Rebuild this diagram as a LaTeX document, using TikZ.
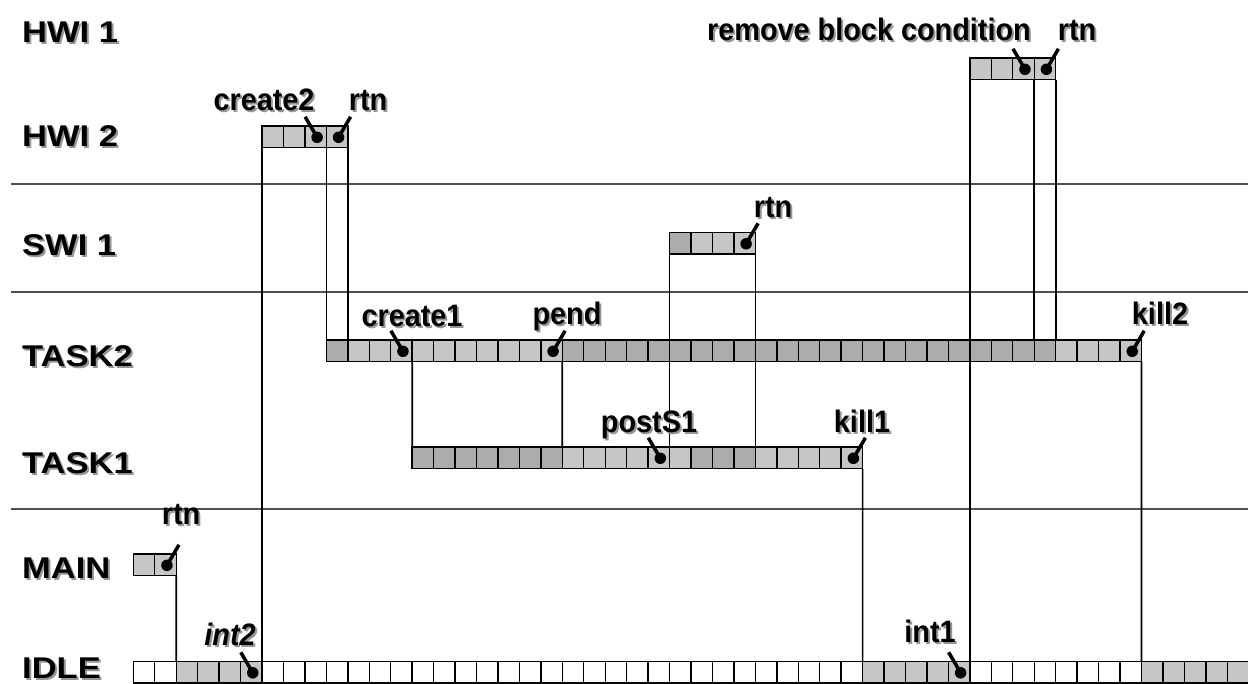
\documentclass[tikz,border=0pt]{standalone}
\usepackage{fontspec}
\setmainfont{Liberation Sans}
\newfontfamily\rowfont{Liberation Sans}[FakeStretch=1.15]
\newfontfamily\annfont{Liberation Sans}[FakeStretch=0.93]
\usetikzlibrary{calc}

\definecolor{runcell}{RGB}{198,198,198}
\definecolor{waitcell}{RGB}{172,172,172}
\definecolor{shade}{RGB}{150,150,150}
\definecolor{sepline}{RGB}{80,80,80}

% text with a soft grey drop shadow
\newcommand\shadowed[1]{\makebox[0pt][l]{\kern2pt\raisebox{-2pt}{\textcolor{shade}{#1}}}#1}

\tikzset{
  cell/.style={draw=black, line width=1.4pt, minimum width=21.45pt, minimum height=21.6pt,
               inner sep=0pt, outer sep=0pt},
  dot/.style={circle, fill=black, minimum size=11.5pt, inner sep=0pt},
  tail/.style={line width=3.5pt},
  link/.style={line width=1.7pt},
  sep/.style={draw=sepline, line width=2pt},
  rowlabel/.style={anchor=base west, inner sep=0pt, font=\rowfont\bfseries\fontsize{30}{34}\selectfont},
  ann/.style={anchor=base, inner sep=0pt, font=\annfont\bfseries\fontsize{31}{34}\selectfont},
}

% a run of time-slot cells: prefix, top y, first slot, last slot, fill
\newcommand\slots[5]{%
  \foreach \i in {#3,...,#4}{%
    \node[cell, fill=#5] (#1-\i) at ({133.3+21.45*(\i+0.5)}, {#2+10.8}) {};
  }}

% event marker: cell, marker name, horizontal lean of the stem
\newcommand\pin[3]{%
  \node[dot] (#2) at ($(#1.center)+(1.5,0.5)$) {};
  \coordinate (#2-tip) at ($(#2.center)+(#3,-20.5)$);
  \draw[tail] (#2.center) -- (#2-tip);}

\begin{document}
\begin{tikzpicture}[x=1pt, y=-1pt]
\useasboundingbox (0,0) rectangle (1248,683);
\clip (0,0) rectangle (1248,683);

% row separators
\coordinate (sepA-l) at (11,183.5);  \coordinate (sepA-r) at (1248,183.5);
\coordinate (sepB-l) at (11,292);    \coordinate (sepB-r) at (1248,292);
\coordinate (sepC-l) at (11,509);    \coordinate (sepC-r) at (1248,509);
\draw[sep] (sepA-l) -- (sepA-r);
\draw[sep] (sepB-l) -- (sepB-r);
\draw[sep] (sepC-l) -- (sepC-r);

% row labels
\node[rowlabel] (lbl-hwi1)  at (22,42)  {\shadowed{HWI 1}};
\node[rowlabel] (lbl-hwi2)  at (22,146) {\shadowed{HWI 2}};
\node[rowlabel] (lbl-swi1)  at (22,255) {\shadowed{SWI 1}};
\node[rowlabel] (lbl-task2) at (22,366) {\shadowed{TASK2}};
\node[rowlabel] (lbl-task1) at (22,473) {\shadowed{TASK1}};
\node[rowlabel] (lbl-main)  at (22,578) {\shadowed{MAIN}};
\node[rowlabel] (lbl-idle)  at (22,678.5) {\shadowed{IDLE}};

% time slots per thread
\slots{h1}{58}{39}{42}{runcell}
\slots{h2}{126}{6}{9}{runcell}
\slots{s1}{232.5}{25}{25}{waitcell}
\slots{s1}{232.5}{26}{28}{runcell}
\slots{t2}{340}{9}{9}{waitcell}
\slots{t2}{340}{10}{19}{runcell}
\slots{t2}{340}{20}{42}{waitcell}
\slots{t2}{340}{43}{46}{runcell}
\slots{t1}{447}{13}{19}{waitcell}
\slots{t1}{447}{20}{25}{runcell}
\slots{t1}{447}{26}{28}{waitcell}
\slots{t1}{447}{29}{33}{runcell}
\slots{mn}{554}{0}{1}{runcell}
\slots{id}{661.5}{0}{1}{white}
\slots{id}{661.5}{2}{5}{runcell}
\slots{id}{661.5}{6}{33}{white}
\slots{id}{661.5}{34}{38}{runcell}
\slots{id}{661.5}{39}{46}{white}
\slots{id}{661.5}{47}{52}{runcell}

% context switches
\draw[link] (h2-6.south west)  -- (id-6.north west);
\draw[link] (h2-9.south west)  -- (t2-9.north west);
\draw[link] (h2-9.south east)  -- (t2-9.north east);
\draw[link] (mn-1.south east)  -- (id-2.north west);
\draw[link] (t2-12.south east) -- (t1-13.north west);
\draw[link] (t2-19.south east) -- (t1-20.north west);
\draw[link] (s1-25.south west) -- (t1-25.north west);
\draw[link] (s1-28.south east) -- (t1-28.north east);
\draw[link] (t1-33.south east) -- (id-34.north west);
\draw[link] (h1-39.south west) -- (id-39.north west);
\draw[link] (h1-42.south west) -- (t2-42.north west);
\draw[link] (h1-42.south east) -- (t2-42.north east);
\draw[link] (t2-46.south east) -- (id-47.north west);

% event markers
\pin{h1-41}{ev-rbc}{-12}
\pin{h1-42}{ev-rtn-h1}{12}
\pin{h2-8}{ev-create2}{-12}
\pin{h2-9}{ev-rtn-h2}{12}
\pin{s1-28}{ev-rtn-s1}{12}
\pin{t2-12}{ev-create1}{-12}
\pin{t2-19}{ev-pend}{12}
\pin{t2-46}{ev-kill2}{12}
\pin{t1-24}{ev-posts1}{-12}
\pin{t1-33}{ev-kill1}{12}
\pin{mn-1}{ev-rtn-main}{12}
\pin{id-5}{ev-int2}{-12}
\pin{id-38}{ev-int1}{-12}

% event names
\node[ann] (txt-rbc)      at (869,40)  {\shadowed{remove block condition}};
\node[ann] (txt-rtn-h1)   at (1077,40) {\shadowed{rtn}};
\node[ann] (txt-create2)  at (264,110) {\shadowed{create2}};
\node[ann] (txt-rtn-h2)   at (368,110) {\shadowed{rtn}};
\node[ann] (txt-rtn-s1)   at (773,217) {\shadowed{rtn}};
\node[ann] (txt-create1)  at (412,326) {\shadowed{create1}};
\node[ann] (txt-pend)     at (567,324) {\shadowed{pend}};
\node[ann] (txt-kill2)    at (1160,324) {\shadowed{kill2}};
\node[ann] (txt-posts1)   at (649,432) {\shadowed{postS1}};
\node[ann] (txt-kill1)    at (862,432) {\shadowed{kill1}};
\node[ann] (txt-rtn-main) at (181,524) {\shadowed{rtn}};
\node[ann, font=\annfont\bfseries\itshape\fontsize{31}{34}\selectfont] (txt-int2) at (230,645) {\shadowed{int2}};
\node[ann] (txt-int1)     at (930,642) {\shadowed{int1}};
\end{tikzpicture}
\end{document}
